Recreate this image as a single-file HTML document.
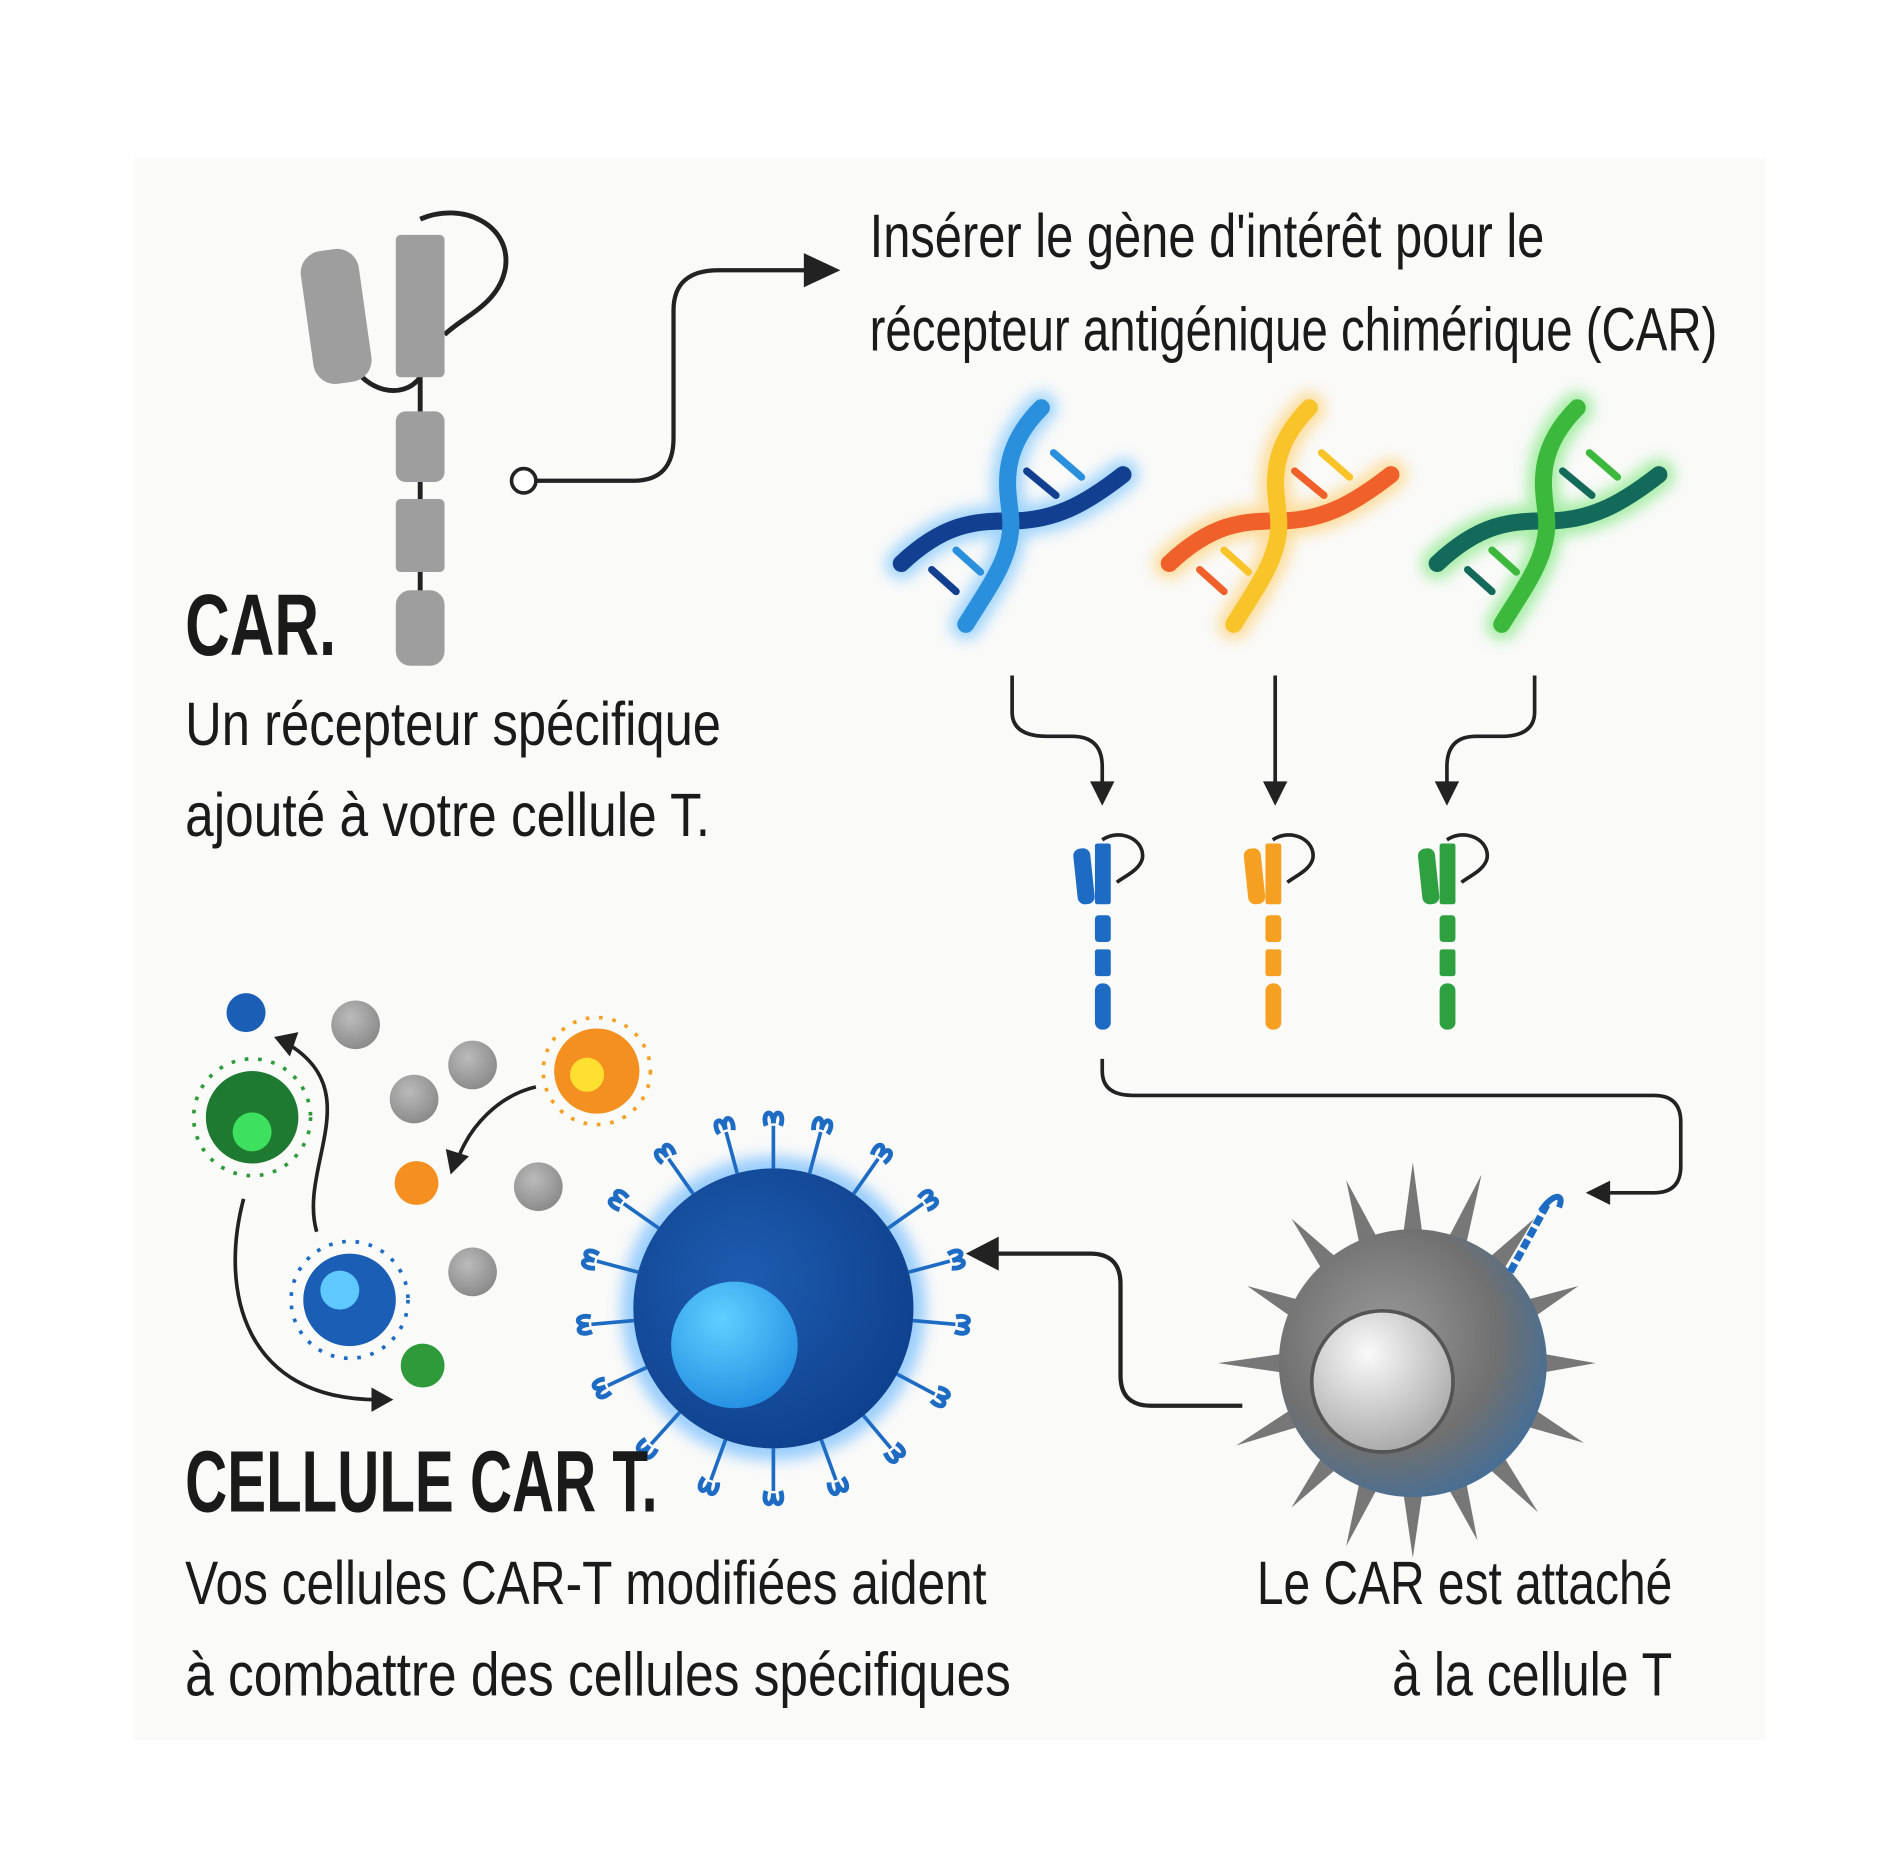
<!DOCTYPE html>
<html><head><meta charset="utf-8"><style>
html,body{margin:0;padding:0;background:#fff;}
svg{display:block}
text{font-family:"Liberation Sans Narrow","Liberation Sans",sans-serif;fill:#1a1a1a}
</style></head><body>
<svg width="1900" height="1850" viewBox="0 0 1560 1520" preserveAspectRatio="none" xmlns="http://www.w3.org/2000/svg">
<defs>
<filter id="glow" x="-50%" y="-50%" width="200%" height="200%"><feGaussianBlur stdDeviation="6"/></filter>
<radialGradient id="gcell" cx="0.4" cy="0.4" r="0.7"><stop offset="0" stop-color="#9a9a9a"/><stop offset="0.6" stop-color="#707070"/><stop offset="1" stop-color="#3b6ea0"/></radialGradient>
<radialGradient id="gnuc" cx="0.4" cy="0.3" r="0.8"><stop offset="0" stop-color="#fafafa"/><stop offset="1" stop-color="#a0a0a0"/></radialGradient>
<radialGradient id="bcell" cx="0.4" cy="0.4" r="0.7"><stop offset="0" stop-color="#1e5cb0"/><stop offset="1" stop-color="#0d3f8a"/></radialGradient>
<radialGradient id="bnuc" cx="0.4" cy="0.3" r="0.8"><stop offset="0" stop-color="#5fd0ff"/><stop offset="1" stop-color="#1f8ae0"/></radialGradient>
<radialGradient id="gdot" cx="0.4" cy="0.35" r="0.7"><stop offset="0" stop-color="#bbb"/><stop offset="1" stop-color="#888"/></radialGradient>
</defs>
<rect width="1560" height="1520" fill="#fff"/>
<rect x="110" y="130" width="1340" height="1300" fill="#fafaf9"/>

<!-- gray CAR -->
<g>
<path d="M345,310 C330,330 300,320 290,300" fill="none" stroke="#222" stroke-width="4"/>
<path d="M345,180 C380,165 420,185 415,220 C410,250 380,260 365,275" fill="none" stroke="#222" stroke-width="4"/>
<path d="M345,300 V545" stroke="#222" stroke-width="4"/>
<rect x="252" y="205" width="48" height="110" rx="18" fill="#9e9e9e" transform="rotate(-8 276 260)"/>
<rect x="325" y="193" width="40" height="117" rx="4" fill="#9e9e9e"/>
<rect x="325" y="338" width="40" height="58" rx="8" fill="#9e9e9e"/>
<rect x="325" y="410" width="40" height="60" rx="4" fill="#9e9e9e"/>
<rect x="325" y="485" width="40" height="62" rx="12" fill="#9e9e9e"/>
</g>

<!-- connector 1 -->
<circle cx="430" cy="395" r="10" fill="#fff" stroke="#222" stroke-width="3"/>
<path d="M440,395 H520 Q553,395 553,360 V255 Q553,222 590,222 H665" fill="none" stroke="#222" stroke-width="3.5"/>
<path d="M660,208 L690,222 L660,236 Z" fill="#222"/>

<text x="714" y="211" font-size="50" textLength="554" lengthAdjust="spacingAndGlyphs">Insérer le gène d'intérêt pour le</text>
<text x="714" y="288" font-size="50" textLength="696" lengthAdjust="spacingAndGlyphs">récepteur antigénique chimérique (CAR)</text>

<!-- DNA -->
<g transform="translate(830,430)">
<g filter="url(#glow)" opacity="0.5"><path d="M25,-95 C-15,-55 0,-20 0,0 C0,30 -20,55 -37,83 M-90,33 C-55,0 -30,-2 0,-2 C35,-2 60,-15 92,-40" fill="none" stroke="#4ab0ff" stroke-width="26" stroke-linecap="round"/></g>
<path d="M-90,33 C-55,0 -30,-2 0,-2 C35,-2 60,-15 92,-40" fill="none" stroke="#123f8f" stroke-width="14" stroke-linecap="round"/>
<path d="M25,-95 C-15,-55 0,-20 0,0 C0,30 -20,55 -37,83" fill="none" stroke="#2a8fdc" stroke-width="14" stroke-linecap="round"/>
<path d="M35,-58 L58,-38 M-45,22 L-25,40" stroke="#2a8fdc" stroke-width="6" stroke-linecap="round"/>
<path d="M13,-43 L37,-23 M-65,38 L-45,56" stroke="#123f8f" stroke-width="6" stroke-linecap="round"/>
</g>
<g transform="translate(1050,430)">
<g filter="url(#glow)" opacity="0.5"><path d="M25,-95 C-15,-55 0,-20 0,0 C0,30 -20,55 -37,83 M-90,33 C-55,0 -30,-2 0,-2 C35,-2 60,-15 92,-40" fill="none" stroke="#ffc040" stroke-width="26" stroke-linecap="round"/></g>
<path d="M-90,33 C-55,0 -30,-2 0,-2 C35,-2 60,-15 92,-40" fill="none" stroke="#f0602a" stroke-width="14" stroke-linecap="round"/>
<path d="M25,-95 C-15,-55 0,-20 0,0 C0,30 -20,55 -37,83" fill="none" stroke="#f8c42a" stroke-width="14" stroke-linecap="round"/>
<path d="M35,-58 L58,-38 M-45,22 L-25,40" stroke="#f8c42a" stroke-width="6" stroke-linecap="round"/>
<path d="M13,-43 L37,-23 M-65,38 L-45,56" stroke="#f0602a" stroke-width="6" stroke-linecap="round"/>
</g>
<g transform="translate(1270,430)">
<g filter="url(#glow)" opacity="0.5"><path d="M25,-95 C-15,-55 0,-20 0,0 C0,30 -20,55 -37,83 M-90,33 C-55,0 -30,-2 0,-2 C35,-2 60,-15 92,-40" fill="none" stroke="#50e050" stroke-width="26" stroke-linecap="round"/></g>
<path d="M-90,33 C-55,0 -30,-2 0,-2 C35,-2 60,-15 92,-40" fill="none" stroke="#146a5a" stroke-width="14" stroke-linecap="round"/>
<path d="M25,-95 C-15,-55 0,-20 0,0 C0,30 -20,55 -37,83" fill="none" stroke="#3cb83c" stroke-width="14" stroke-linecap="round"/>
<path d="M35,-58 L58,-38 M-45,22 L-25,40" stroke="#3cb83c" stroke-width="6" stroke-linecap="round"/>
<path d="M13,-43 L37,-23 M-65,38 L-45,56" stroke="#146a5a" stroke-width="6" stroke-linecap="round"/>
</g>

<!-- down arrows -->
<g fill="none" stroke="#222" stroke-width="3">
<path d="M831,555 V585 Q831,605 860,605 H880 Q905,605 905,630 V645"/>
<path d="M1047,555 V645"/>
<path d="M1260,555 V585 Q1260,605 1232,605 H1212 Q1188,605 1188,630 V645"/>
</g>
<path d="M895,642 L905,662 L915,642 Z M1037,642 L1047,662 L1057,642 Z M1178,642 L1188,662 L1198,642 Z" fill="#222"/>

<!-- small CARs -->
<g transform="translate(905,0)">
<path d="M0,690 C15,680 35,690 33,705 C31,715 18,720 12,725" fill="none" stroke="#222" stroke-width="3"/>
<rect x="-22" y="697" width="14" height="46" rx="6" fill="#1e6bc4" transform="rotate(-6 -15 720)"/>
<rect x="-6" y="693" width="13" height="50" rx="2" fill="#1e6bc4"/>
<rect x="-6" y="752" width="13" height="22" rx="3" fill="#1e6bc4"/>
<rect x="-6" y="780" width="13" height="22" rx="2" fill="#1e6bc4"/>
<rect x="-6" y="808" width="13" height="38" rx="6" fill="#1e6bc4"/>
</g>
<g transform="translate(1045,0)">
<path d="M0,690 C15,680 35,690 33,705 C31,715 18,720 12,725" fill="none" stroke="#222" stroke-width="3"/>
<rect x="-22" y="697" width="14" height="46" rx="6" fill="#f5a020" transform="rotate(-6 -15 720)"/>
<rect x="-6" y="693" width="13" height="50" rx="2" fill="#f5a020"/>
<rect x="-6" y="752" width="13" height="22" rx="3" fill="#f5a020"/>
<rect x="-6" y="780" width="13" height="22" rx="2" fill="#f5a020"/>
<rect x="-6" y="808" width="13" height="38" rx="6" fill="#f5a020"/>
</g>
<g transform="translate(1188,0)">
<path d="M0,690 C15,680 35,690 33,705 C31,715 18,720 12,725" fill="none" stroke="#222" stroke-width="3"/>
<rect x="-22" y="697" width="14" height="46" rx="6" fill="#2ea040" transform="rotate(-6 -15 720)"/>
<rect x="-6" y="693" width="13" height="50" rx="2" fill="#2ea040"/>
<rect x="-6" y="752" width="13" height="22" rx="3" fill="#2ea040"/>
<rect x="-6" y="780" width="13" height="22" rx="2" fill="#2ea040"/>
<rect x="-6" y="808" width="13" height="38" rx="6" fill="#2ea040"/>
</g>

<!-- connector to gray cell -->
<path d="M905,870 V880 Q905,900 930,900 H1358 Q1380,900 1380,922 V958 Q1380,980 1358,980 H1320" fill="none" stroke="#222" stroke-width="3"/>
<path d="M1322,970 L1302,980 L1322,990 Z" fill="#222"/>

<!-- gray cell -->
<g transform="translate(1160,1120)">
<g fill="#777">
<path d="M-8,-105 L0,-165 L8,-105 Z"/>
<path d="M-8,-105 L0,-165 L8,-105 Z" transform="rotate(20)"/>
<path d="M-8,-105 L0,-155 L8,-105 Z" transform="rotate(40)"/>
<path d="M-8,-105 L0,-150 L8,-105 Z" transform="rotate(65)"/>
<path d="M-8,-105 L0,-150 L8,-105 Z" transform="rotate(90)"/>
<path d="M-8,-105 L0,-155 L8,-105 Z" transform="rotate(115)"/>
<path d="M-8,-105 L0,-160 L8,-105 Z" transform="rotate(140)"/>
<path d="M-8,-105 L0,-155 L8,-105 Z" transform="rotate(160)"/>
<path d="M-8,-105 L0,-160 L8,-105 Z" transform="rotate(180)"/>
<path d="M-8,-105 L0,-160 L8,-105 Z" transform="rotate(200)"/>
<path d="M-8,-105 L0,-155 L8,-105 Z" transform="rotate(220)"/>
<path d="M-8,-105 L0,-160 L8,-105 Z" transform="rotate(245)"/>
<path d="M-8,-105 L0,-160 L8,-105 Z" transform="rotate(270)"/>
<path d="M-8,-105 L0,-150 L8,-105 Z" transform="rotate(295)"/>
<path d="M-8,-105 L0,-155 L8,-105 Z" transform="rotate(320)"/>
<path d="M-8,-105 L0,-160 L8,-105 Z" transform="rotate(340)"/>
</g>
<circle r="110" fill="url(#gcell)"/>
<circle cx="-25" cy="15" r="58" fill="url(#gnuc)" stroke="#555" stroke-width="3"/>
<path d="M80,-75 L110,-130" stroke="#1e6bc4" stroke-width="6" stroke-dasharray="8,3"/>
<path d="M105,-125 C115,-140 125,-140 120,-128" fill="none" stroke="#1e6bc4" stroke-width="5"/>
</g>

<!-- arrow gray to blue -->
<path d="M1020,1155 H945 Q920,1155 920,1130 V1055 Q920,1030 895,1030 H815" fill="none" stroke="#222" stroke-width="3.5"/>
<path d="M820,1016 L793,1030 L820,1044 Z" fill="#222"/>

<!-- blue CAR T cell -->
<g transform="translate(635,1075)">
<circle r="125" fill="#5ab0ff" filter="url(#glow)" opacity="0.6"/>
<g stroke="#1e6bc4" stroke-width="3" fill="none">
<g id="rec"><path d="M0,-115 V-150"/><path d="M-6,-150 C-10,-162 0,-165 0,-152 C0,-165 10,-162 6,-150" stroke-width="4"/></g>
<use href="#rec" transform="rotate(15)"/><use href="#rec" transform="rotate(35)"/><use href="#rec" transform="rotate(55)"/>
<use href="#rec" transform="rotate(75)"/><use href="#rec" transform="rotate(95)"/><use href="#rec" transform="rotate(118)"/>
<use href="#rec" transform="rotate(140)"/><use href="#rec" transform="rotate(160)"/><use href="#rec" transform="rotate(180)"/>
<use href="#rec" transform="rotate(200)"/><use href="#rec" transform="rotate(222)"/><use href="#rec" transform="rotate(245)"/>
<use href="#rec" transform="rotate(265)"/><use href="#rec" transform="rotate(285)"/><use href="#rec" transform="rotate(305)"/>
<use href="#rec" transform="rotate(325)"/><use href="#rec" transform="rotate(345)"/>
</g>
<circle r="115" fill="url(#bcell)"/>
<circle cx="-32" cy="30" r="52" fill="url(#bnuc)"/>
</g>

<!-- small cells -->
<circle cx="202" cy="832" r="16" fill="#1a5fb5"/>
<circle cx="292" cy="842" r="20" fill="url(#gdot)"/>
<circle cx="388" cy="875" r="20" fill="url(#gdot)"/>
<circle cx="340" cy="903" r="20" fill="url(#gdot)"/>
<circle cx="442" cy="975" r="20" fill="url(#gdot)"/>
<circle cx="388" cy="1045" r="20" fill="url(#gdot)"/>
<circle cx="342" cy="972" r="18" fill="#f59020"/>
<circle cx="347" cy="1122" r="18" fill="#2e9a3a"/>
<g transform="translate(490,880)">
<circle r="44" fill="none" stroke="#f5a020" stroke-width="3" stroke-dasharray="3,8"/>
<circle r="35" fill="#f39020"/>
<circle cx="-8" cy="3" r="14" fill="#ffe030"/>
</g>
<g transform="translate(207,918)">
<circle r="48" fill="none" stroke="#2e9a3a" stroke-width="3" stroke-dasharray="3,8"/>
<circle r="38" fill="#1d7a30"/>
<circle cx="0" cy="12" r="16" fill="#3ee060"/>
</g>
<g transform="translate(287,1068)">
<circle r="48" fill="none" stroke="#1e6bc4" stroke-width="3" stroke-dasharray="3,8"/>
<circle r="38" fill="#1a5fb5"/>
<circle cx="-8" cy="-8" r="16" fill="#5ec8ff"/>
</g>
<g fill="none" stroke="#222" stroke-width="3">
<path d="M260,1012 C245,960 300,900 240,860"/>
<path d="M440,893 C410,900 385,925 375,955"/>
<path d="M200,985 C180,1060 200,1150 310,1150"/>
</g>
<path d="M245,848 L225,852 L238,868 Z M366,944 L370,965 L385,950 Z M305,1140 L323,1150 L305,1160 Z" fill="#222"/>

<!-- labels -->
<text x="152" y="538" font-size="72" font-weight="bold" textLength="124" lengthAdjust="spacingAndGlyphs">CAR.</text>
<text x="152" y="612" font-size="50" textLength="440" lengthAdjust="spacingAndGlyphs">Un récepteur spécifique</text>
<text x="152" y="687" font-size="50" textLength="431" lengthAdjust="spacingAndGlyphs">ajouté à votre cellule T.</text>
<text x="152" y="1242" font-size="72" font-weight="bold" textLength="388" lengthAdjust="spacingAndGlyphs">CELLULE CAR T.</text>
<text x="152" y="1318" font-size="50" textLength="658" lengthAdjust="spacingAndGlyphs">Vos cellules CAR-T modifiées aident</text>
<text x="152" y="1393" font-size="50" textLength="678" lengthAdjust="spacingAndGlyphs">à combattre des cellules spécifiques</text>
<text x="1032" y="1318" font-size="50" textLength="341" lengthAdjust="spacingAndGlyphs">Le CAR est attaché</text>
<text x="1143" y="1393" font-size="50" textLength="230" lengthAdjust="spacingAndGlyphs">à la cellule T</text>
</svg>
</body></html>
